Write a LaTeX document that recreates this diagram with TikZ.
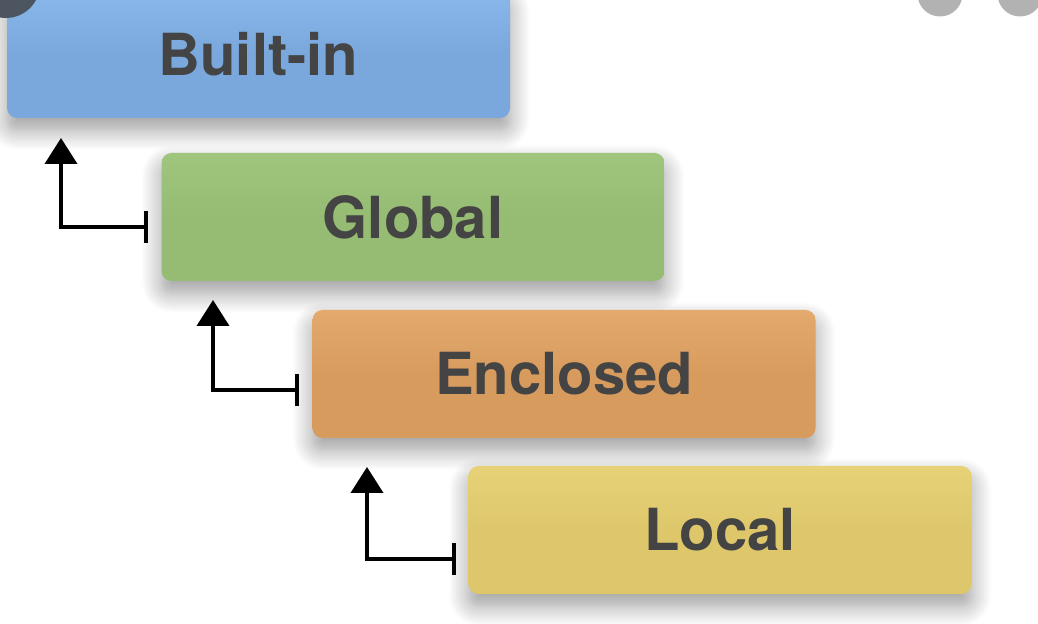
\documentclass[tikz,border=0pt]{standalone}
\usepackage{fontspec}
\setsansfont{TeX Gyre Heros}
\usetikzlibrary{arrows.meta,shadows.blur}
\definecolor{builtinblue}{HTML}{7AA8DC}
\definecolor{builtinblue top}{HTML}{8BB8EB}
\definecolor{globalgreen}{HTML}{95BC72}
\definecolor{globalgreen top}{HTML}{A0C67E}
\definecolor{enclosedorange}{HTML}{D89B5E}
\definecolor{enclosedorange top}{HTML}{E3AA6D}
\definecolor{localyellow}{HTML}{DEC76B}
\definecolor{localyellow top}{HTML}{E7D278}
\definecolor{labelgray}{HTML}{444444}
\tikzset{
  scope box/.style={rectangle, rounded corners=5pt, minimum width=251.5pt, minimum height=64pt,
    top color=#1 top, bottom color=#1, middle color=#1,
    blur shadow={shadow xshift=0pt, shadow yshift=-6pt, shadow blur radius=10pt, shadow blur steps=12, shadow opacity=40},
    font=\sffamily\bfseries\fontsize{29}{33}\selectfont, text=labelgray},
  scope arrow/.style={line width=2pt, line cap=round,
    {Bar[width=16pt,line width=2pt]}-{Triangle[length=13pt,width=16pt]}}
}
\begin{document}
\begin{tikzpicture}[x=0.5pt,y=-0.5pt]
\useasboundingbox (0,0) rectangle (1038,624);

\node[scope box=builtinblue] (builtin) at (258.5,54) {Built-in};
\node[scope box=globalgreen] (global) at (413,217) {Global};
\node[scope box=enclosedorange] (enclosed) at (564,374) {Enclosed};
\node[scope box=localyellow] (local) at (720,530) {Local};

\foreach \name/\tx/\ty/\hx/\hy in {global/148/227/61/138, enclosed/299/390/213/300, local/456/559/367/467}
    {
        \coordinate (\name-tail) at (\tx,\ty);
        \coordinate (\name-tip) at (\hx,\hy);
        \draw[scope arrow] (\name-tail) -| (\name-tip);
    }

% viewer buttons
\fill[fill={rgb,255:red,77;green,86;blue,96}] (6,-16) circle [radius=34];
\fill[gray!60] (940,-6) circle [radius=22.5];
\fill[gray!60] (1020,-6) circle [radius=22.5];
\end{tikzpicture}
\end{document}
